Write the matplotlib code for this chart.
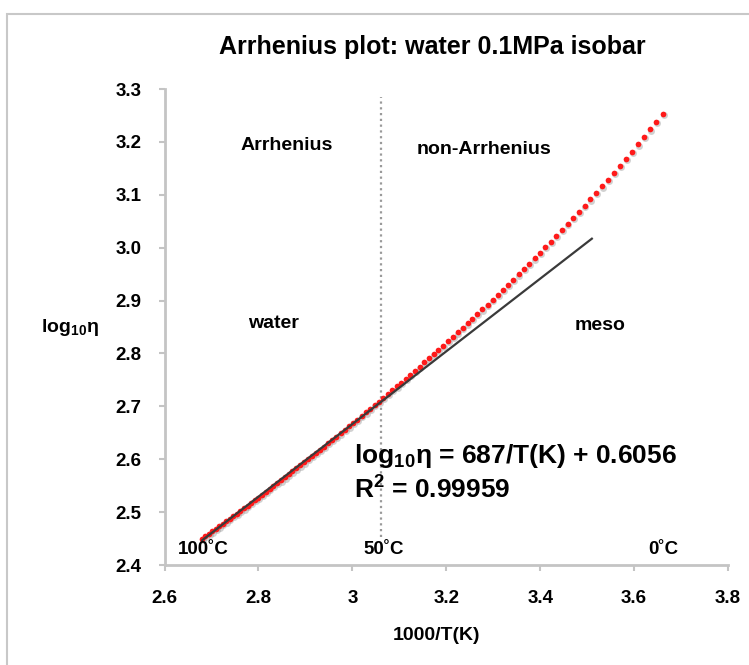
import matplotlib
matplotlib.use("Agg")
import matplotlib.pyplot as plt
import matplotlib.transforms as mtransforms
from matplotlib.patches import Rectangle

plt.rcParams['font.family'] = ['Liberation Sans', 'DejaVu Sans']
plt.rcParams['mathtext.fontset'] = 'custom'
plt.rcParams['mathtext.rm'] = 'Liberation Sans:bold'
plt.rcParams['mathtext.it'] = 'Liberation Sans:bold'
plt.rcParams['mathtext.bf'] = 'Liberation Sans:bold'

# ---- data ----
temps_c = list(range(0, 101))  # 1 degC steps
log_eta = [
    3.2532, 3.2382, 3.2236, 3.2092, 3.1951, 3.1813, 3.1677, 3.1544, 3.1413, 3.1285,
    3.1159, 3.1035, 3.0913, 3.0793, 3.0675, 3.0560, 3.0446, 3.0334, 3.0223, 3.0114,
    3.0007, 2.9901, 2.9797, 2.9694, 2.9593, 2.9494, 2.9396, 2.9299, 2.9203, 2.9109,
    2.9016, 2.8924, 2.8833, 2.8743, 2.8655, 2.8568, 2.8482, 2.8397, 2.8313, 2.8230,
    2.8147, 2.8066, 2.7986, 2.7907, 2.7829, 2.7751, 2.7674, 2.7598, 2.7523, 2.7449,
    2.7376, 2.7304, 2.7232, 2.7161, 2.7091, 2.7021, 2.6952, 2.6884, 2.6817, 2.6750,
    2.6684, 2.6619, 2.6554, 2.6490, 2.6427, 2.6364, 2.6302, 2.6240, 2.6179, 2.6118,
    2.6058, 2.5999, 2.5940, 2.5882, 2.5825, 2.5768, 2.5712, 2.5656, 2.5600, 2.5545,
    2.5490, 2.5436, 2.5382, 2.5329, 2.5276, 2.5224, 2.5173, 2.5122, 2.5072, 2.5022,
    2.4972, 2.4923, 2.4874, 2.4825, 2.4777, 2.4729, 2.4682, 2.4636, 2.4590, 2.4544,
    2.4498,
]
inv_T = [1000.0 / (t + 273.15) for t in temps_c]

fit_x = [2.68, 3.51]
fit_slope = 0.687
fit_intercept = 0.6056
fit_y = [fit_slope * x + fit_intercept for x in fit_x]

divider_x = 3.06
divider_y = [2.453, 3.285]

x_ticks = [2.6, 2.8, 3.0, 3.2, 3.4, 3.6, 3.8]
x_tick_labels = ['2.6', '2.8', '3', '3.2', '3.4', '3.6', '3.8']
y_ticks = [2.4, 2.5, 2.6, 2.7, 2.8, 2.9, 3.0, 3.1, 3.2, 3.3]
y_tick_labels = ['2.4', '2.5', '2.6', '2.7', '2.8', '2.9', '3.0', '3.1', '3.2', '3.3']

# ---- figure ----
W, H = 749, 665
fig = plt.figure(figsize=(W / 100, H / 100), dpi=100)
fig.patches.append(Rectangle((7 / W, -0.1), 1.2, 1 - 14 / H + 0.1,
                             transform=fig.transFigure, fill=False,
                             edgecolor='#c8c8c8', lw=1.5, zorder=0))

ax = fig.add_axes([164.6 / W, 1 - 565 / H, (728 - 164.6) / W, (565 - 89) / H])
ax.set_xlim(2.6, 3.8)
ax.set_ylim(2.4, 3.3)

for s in ['top', 'right']:
    ax.spines[s].set_visible(False)
for s in ['left', 'bottom']:
    ax.spines[s].set_color('#c4c4c4')
    ax.spines[s].set_linewidth(2)

ax.set_xticks(x_ticks)
ax.set_xticklabels(x_tick_labels)
ax.set_yticks(y_ticks)
ax.set_yticklabels(y_tick_labels)
ax.tick_params(axis='both', direction='out', length=4, width=1.5, color='#c4c4c4',
               labelsize=13.5)
ax.tick_params(axis='x', pad=14)
ax.tick_params(axis='y', pad=12.5)
for lab in ax.get_xticklabels() + ax.get_yticklabels():
    lab.set_fontweight('bold')

# shadow of dots
shadow = mtransforms.offset_copy(ax.transData, fig=fig, x=0.8, y=-1.2, units='dots')
ax.plot(inv_T, log_eta, linestyle='none', marker='o', markersize=5.0,
        color='#9a9a9a', alpha=0.45, markeredgewidth=0, transform=shadow, zorder=2)
ax.plot(inv_T, log_eta, linestyle='none', marker='o', markersize=4.1,
        color='#ff1a1a', markeredgewidth=0, zorder=3)

ax.plot(fit_x, fit_y, color='#3a3a3a', lw=1.6, zorder=4)

ax.plot([divider_x, divider_x], divider_y, color='#9a9a9a', lw=1.6,
        linestyle=(0, (1, 1.6)), zorder=1)

# ---- texts ----
def ftxt(x, y, s, size=14, ha='center'):
    fig.text(x / W, 1 - y / H, s, ha=ha, va='center', fontsize=size,
             fontweight='bold')

ftxt(432.5, 47, 'Arrhenius plot: water 0.1MPa isobar', size=18)
ftxt(287, 146, 'Arrhenius')
ftxt(484, 150, 'non-Arrhenius')
ftxt(274, 323, 'water')
ftxt(600, 325, 'meso')
ftxt(354, 456, r'$\mathregular{log_{10}η}$ = 687/T(K) + 0.6056', size=19, ha='left')
ftxt(354, 490, r'R$\mathregular{^2}$ = 0.99959', size=19, ha='left')
ftxt(203, 550, '100˚C', size=13.5)
ftxt(384, 549, '50˚C', size=13.5)
ftxt(663, 549, '0˚C', size=13.5)
ftxt(70, 328, r'$\mathregular{log_{10}η}$', size=14)
ftxt(436, 636, '1000/T(K)', size=14)

fig.savefig('out.png', dpi=100)
